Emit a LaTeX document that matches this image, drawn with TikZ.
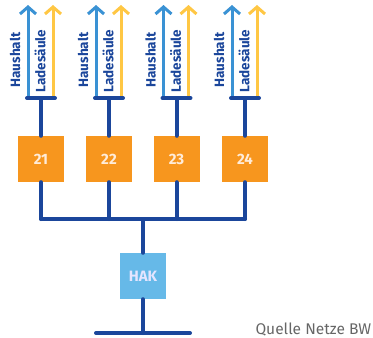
\documentclass[tikz,border=0pt]{standalone}
\usepackage{fontspec}
\setmainfont{Fira Sans}
\usetikzlibrary{arrows.meta}
\definecolor{netzblau}{HTML}{1B469B}
\definecolor{hausblau}{HTML}{3A92D4}
\definecolor{ladegelb}{HTML}{FFC744}
\definecolor{zaehlerorange}{HTML}{F7961E}
\definecolor{hakblau}{HTML}{66B9E8}

\begin{document}
\begin{tikzpicture}[x=1pt, y=-1pt, >={Straight Barb[length=7pt,width=16pt]},
  kabel/.style={draw=netzblau, line width=4pt, line cap=round},
  meter/.style={fill=zaehlerorange, minimum size=46pt, inner sep=0pt,
    text=orange!15, font=\fontsize{15}{15}\selectfont\bfseries},
  hakbox/.style={fill=hakblau, minimum size=46pt, inner sep=0pt,
    text=blue!10, font=\fontsize{15}{15}\selectfont\bfseries},
  label/.style={rotate=90, text=netzblau, font=\fontsize{13.5}{13.5}\selectfont\bfseries}]
\useasboundingbox (0,0) rectangle (373,338);
% zaehler mit abgaengen
\foreach \x/\n in {41/21, 109/22, 176.5/23, 245/24}{
  \node[meter] (m\n) at (\x,159) {\n};
  \coordinate (t\n) at (\x,98);
  \coordinate (b\n) at (\x,219);
  \coordinate (hs\n) at (\x-13,98);
  \coordinate (ht\n) at (\x-13,5);
  \coordinate (ls\n) at (\x+12,98);
  \coordinate (lt\n) at (\x+12,5);
  \draw[->, hausblau, line width=3pt] (hs\n) -- (ht\n);
  \draw[->, ladegelb, line width=3pt] (ls\n) -- (lt\n);
  \draw[kabel] ([xshift=-14pt]t\n) -- ([xshift=14pt]t\n);
  \draw[kabel] (m\n.north) -- (t\n);
  \draw[kabel] (m\n.south) -- (b\n);
  \node[label] (hh\n) at (\x-26,60) {Haushalt};
  \node[label] (ll\n) at (\x-1,61) {Ladesäule};
}
\draw[kabel] (b21) -- (b24);
% hausanschlusskasten
\node[hakbox] (hak) at (143,276) {HAK};
\coordinate (bh) at (143,219);
\coordinate (g) at (143,333);
\draw[kabel] (hak.north) -- (bh);
\draw[kabel] (hak.south) -- (g);
\draw[kabel] ([xshift=-47pt]g) -- ([xshift=47pt]g);
\node[anchor=base west, text=black!60, font=\fontsize{15.5}{15.5}\selectfont] (quelle) at (252,334) {Quelle Netze BW};
\end{tikzpicture}
\end{document}
